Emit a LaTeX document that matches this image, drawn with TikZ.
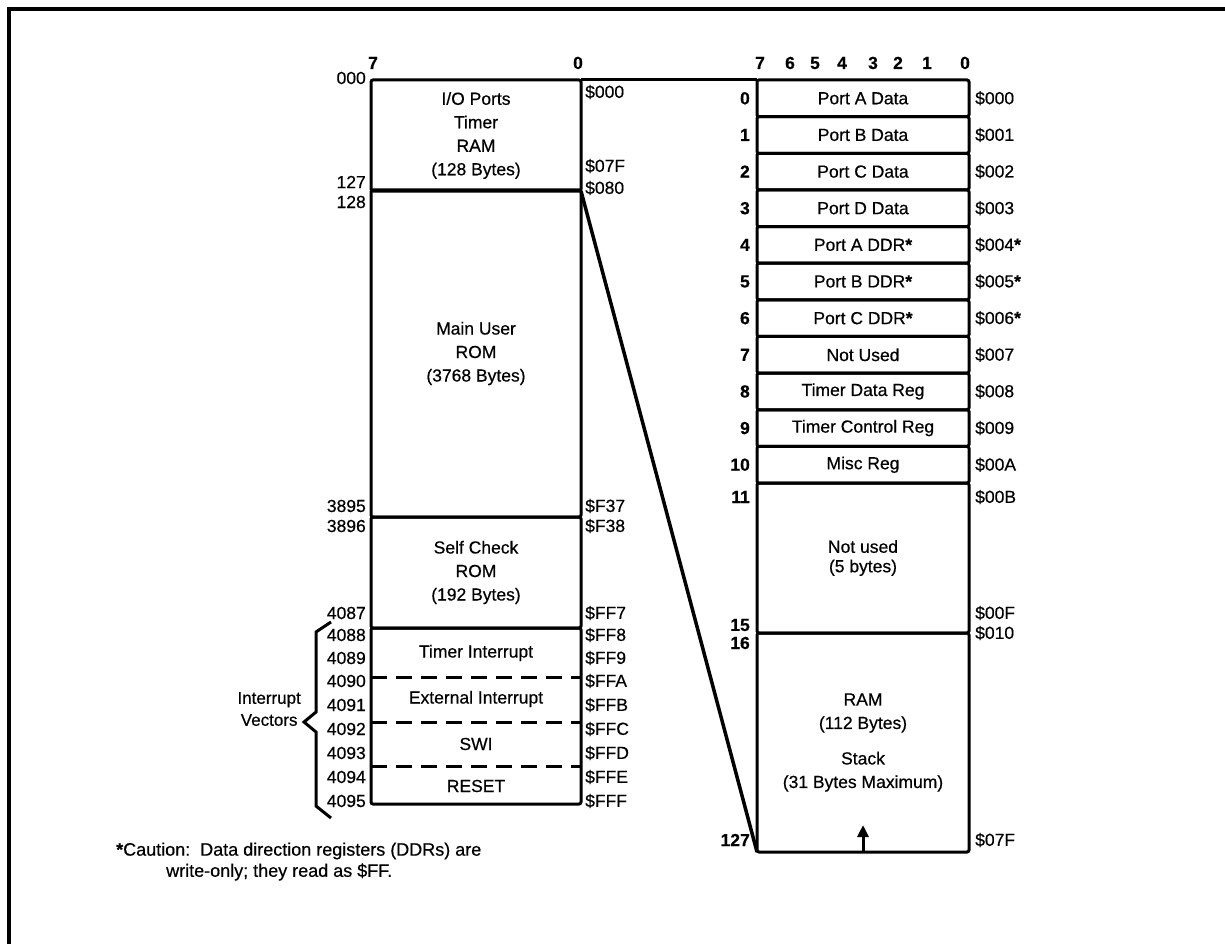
\documentclass[tikz,border=0pt]{standalone}
\usepackage{fontspec}
\setmainfont{Liberation Sans}[FakeBold=0.5]
\usetikzlibrary{arrows.meta}
\tikzset{
  box/.style={draw, line width=3pt, rounded corners=2pt, minimum width=210pt, inner sep=0pt, outer sep=0pt, align=center, font=\fontsize{17.5}{23.5}\selectfont},
  rbox/.style={draw, line width=3pt, rounded corners=2pt, minimum width=212pt, inner sep=0pt, outer sep=0pt, align=center, font=\fontsize{17.5}{23.5}\selectfont},
  lbl/.style={inner sep=0pt, font=\fontsize{17.5}{20}\selectfont},
  bit/.style={inner sep=0pt, font=\fontsize{17.5}{20}\selectfont\bfseries},
  heavy/.style={line width=3pt},
  vsep/.style={line width=3pt, dash pattern=on 16pt off 9pt},
}
\newcommand{\dstar}{\textbf{*}}
\begin{document}
\begin{tikzpicture}[x=1pt,y=-1pt]
\useasboundingbox (0,0) rectangle (1225,944);
% frame
\draw[line width=3.5pt] (9,944) -- (9,9) -- (1225,9);

% ---------- left column ----------
\node[box, minimum height=111pt] (io) at (476,135.5) {I/O Ports\\Timer\\RAM\\(128 Bytes)};
\node[box, minimum height=327pt] (rom) at (476,353.5) {Main User\\ROM\\(3768 Bytes)};
\node[box, minimum height=111pt] (self) at (476,572.5) {Self Check\\ROM\\(192 Bytes)};
\node[box, minimum height=176pt] (vec) at (476,716) {};
\coordinate (d1l) at (371,677); \coordinate (d1r) at (581,677);
\coordinate (d2l) at (371,722); \coordinate (d2r) at (581,722);
\coordinate (d3l) at (371,766); \coordinate (d3r) at (581,766);
\draw[vsep] (d1l) -- (d1r);
\draw[vsep] (d2l) -- (d2r);
\draw[vsep] (d3l) -- (d3r);
\node[lbl] (ti) at (476,653) {Timer Interrupt};
\node[lbl] (ei) at (476,699) {External Interrupt};
\node[lbl] (swi) at (476,744) {SWI};
\node[lbl] (rst) at (476,786) {RESET};

\node[bit, anchor=base] (lb7) at (373,69) {7};
\node[bit, anchor=base] (lb0) at (578,69) {0};

\foreach \t/\y [count=\i] in {000/78,127/182,128/202,3895/506,3896/526,4087/613,4088/635,4089/658,4090/681,4091/705,4092/729,4093/753,4094/777,4095/801}
  \node[lbl, anchor=east] (dl\i) at (366,\y) {\t};
\foreach \t/\y [count=\i] in {\$000/92,\$07F/166,\$080/188,\$F37/506,\$F38/526,\$FF7/613,\$FF8/635,\$FF9/658,\$FFA/681,\$FFB/705,\$FFC/729,\$FFD/753,\$FFE/777,\$FFF/801}
  \node[lbl, anchor=west] (hl\i) at (585,\y) {\t};

% brace
\coordinate (b1) at (331,622); \coordinate (b2) at (316,632);
\coordinate (b3) at (316,712); \coordinate (b4) at (304,722);
\coordinate (b5) at (316,732); \coordinate (b6) at (316,806);
\coordinate (b7) at (331,818);
\draw[heavy, line join=miter] (b1) -- (b2) -- (b3) -- (b4) -- (b5) -- (b6) -- (b7);
\node[lbl, anchor=east, align=center, font=\fontsize{17}{22}\selectfont] (iv) at (301,709) {Interrupt\\Vectors};

% ---------- right column ----------
\foreach \n/\t [count=\i from 0] in {r0/Port A Data,r1/Port B Data,r2/Port C Data,r3/Port D Data,r4/Port A DDR\dstar,r5/Port B DDR\dstar,r6/Port C DDR\dstar,r7/Not Used,r8/Timer Data Reg,r9/Timer Control Reg,r10/Misc Reg}
  \node[rbox, minimum height=36.64pt] (\n) at (863,{98.32+36.64*\i}) {\t};
\node[rbox, minimum height=150pt] (nu) at (863,558) {Not used\\[-4pt](5 bytes)};
\node[rbox, minimum height=219pt] (ram) at (863,742.5) {RAM\\(112 Bytes)\\[12pt]Stack\\(31 Bytes Maximum)};
\draw[heavy, -{Triangle[width=11pt,length=12pt]}] (ram.south) -- ++(0,-27);

\foreach \bb/\xx in {7/760,6/790,5/815,4/842,3/873,2/898,1/927,0/965}
  \node[bit, anchor=base] (rb\bb) at (\xx,69) {\bb};

\foreach \t [count=\i from 0] in {0,1,2,3,4,5,6,7,8,9,10}
  \node[bit, anchor=east] (rn\i) at (750,{98.32+36.64*\i}) {\t};
\node[bit, anchor=east] (rn11) at (750,497) {11};
\node[bit, anchor=east] (rn15) at (750,625) {15};
\node[bit, anchor=east] (rn16) at (750,643) {16};
\node[bit, anchor=east] (rn127) at (750,840) {127};

\foreach \t [count=\i from 0] in {\$000,\$001,\$002,\$003,\$004\dstar,\$005\dstar,\$006\dstar,\$007,\$008,\$009,\$00A}
  \node[lbl, anchor=west] (ra\i) at (975,{98.32+36.64*\i}) {\t};
\node[lbl, anchor=west] (ra11) at (975,497) {\$00B};
\node[lbl, anchor=west] (ra15) at (975,613) {\$00F};
\node[lbl, anchor=west] (ra16) at (975,633) {\$010};
\node[lbl, anchor=west] (ra127) at (975,840) {\$07F};

% connectors between the two maps
\draw[heavy] (io.north east) -- (io.north east -| r0.north west);
\draw[line width=3.5pt] (io.south east) -- (ram.south west);

% footnote
\node[lbl, anchor=west, font=\fontsize{18}{21}\selectfont] (fn1) at (116,851) {\dstar Caution:\ \ Data direction registers (DDRs) are};
\node[lbl, anchor=west, font=\fontsize{18}{21}\selectfont] (fn2) at (166,872) {write-only; they read as \$FF.};
\end{tikzpicture}
\end{document}
